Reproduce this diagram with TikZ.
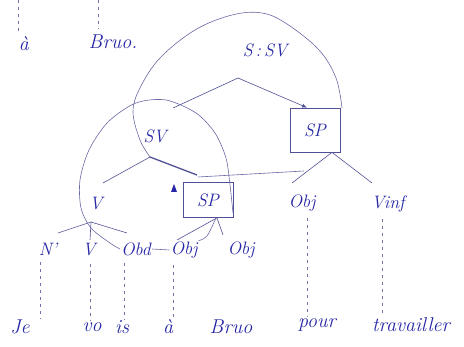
\documentclass[tikz,border=0pt]{standalone}
\usepackage{fontspec}
\usepackage{tikz}
\usetikzlibrary{arrows.meta, calc}
\definecolor{inkc}{RGB}{38,38,165}
\definecolor{penc}{RGB}{80,80,150}
\definecolor{loopc}{RGB}{105,105,165}

\begin{document}
\begin{tikzpicture}[x=1pt, y=-1pt,
    lab/.style={text=inkc, inner sep=1pt, font=\fontsize{18}{20}\selectfont\itshape},
    word/.style={text=inkc, inner sep=1pt,
      font=\fontsize{20}{22}\selectfont\itshape\addfontfeatures{LetterSpace=8}},
    spbox/.style={lab, draw=penc, line width=0.7pt, minimum width=50pt},
    edge/.style={penc, line width=0.6pt},
    leader/.style={penc!80, line width=0.5pt, dash pattern=on 3pt off 4pt},
    lasso/.style={loopc, line width=0.6pt}]
  \useasboundingbox (0,0) rectangle (464,347);
  % tree labels
  \node[lab] (root) at (265,50) {S\,:\,SV};
  \coordinate (sb) at (238,78);
  \node[lab] (sv) at (155,136) {SV};
  \node[spbox, minimum height=44pt] (spr) at (315,130) {SP};
  \node[lab] (v) at (96,204) {V};
  \node[spbox, minimum height=35pt] (spl) at (208,200) {SP};
  \node[lab] (obj) at (302,203) {Obj};
  \node[lab] (vinf) at (388,204) {Vinf};
  \node[lab] (np) at (48,249) {N'};
  \node[lab] (vc) at (89,250) {V};
  \node[lab] (obd) at (136,249) {Obd};
  \node[lab] (obja) at (184,250) {Obj};
  \node[lab] (objb) at (241,250) {Obj};
  % words
  \node[word] (je) at (20,327) {Je};
  \node[word] (vo) at (92,327) {vo};
  \node[word] (is) at (122,327) {is};
  \node[word] (a) at (168,327) {à};
  \node[word] (bruo) at (231,327) {Bruo};
  \node[word] (pour) at (317,325) {pour};
  \node[word] (trav) at (411,325) {travailler};
  \node[word] (topa) at (24,44) {à};
  \node[word] (topb) at (113,42) {Bruo.};
  % branches
  \draw[edge] (sb) -- ($(sv)+(18,-28)$);
  \draw[edge, -{Latex[length=5pt, width=4pt]}] (sb) -- ([xshift=-8pt]spr.north);
  \draw[edge] ($(sv)+(-5,21)$) -- ($(v)+(7,-21)$);
  \draw[edge, line width=1.3pt] ($(sv)+(-5,21)$) -- ($(spl)+(-11,-25)$);
  \foreach \b/\dx/\dy in {obj/-10/-20, vinf/-16/-21}
    \draw[edge] ($(spr.south)+(17,0)$) -- ($(\b)+(\dx,\dy)$);
  \foreach \b/\dx/\dy in {np/10/-16, vc/1/-10, obd/-9/-16}
    \draw[edge] ($(v)+(-5,18)$) -- ($(\b)+(\dx,\dy)$);
  \foreach \b/\dx/\dy in {obja/-7/-10, objb/-18/-15}
    \draw[edge] ($(spl.south)+(9,0)$) -- ($(\b)+(\dx,\dy)$);
  \fill[inkc] (171,192) -- (174,184) -- (177,192) -- cycle;
  % loops
  \draw[lasso] plot[smooth, tension=0.6] coordinates {(150,157) (140,140)
    (133,112) (140,88) (160,58) (195,30) (232,15) (262,13) (287,24) (319,50)
    (336,78) (342,108)};
  \draw[lasso] (198,177) -- (304,171);
  \draw[lasso] plot[smooth] coordinates {(233,213) (230,185) (226,158)
    (215,133) (196,113) (166,100) (136,103) (108,122) (89,150) (80,180)
    (81,208) (91,228) (110,243) (obd.west)};
  \draw[lasso] (obd.east) -- (obja.west);
  \draw[lasso] (obja.north east) .. controls (207,238) .. ($(spl.south)+(8,0)$);
  % leaders
  \coordinate (ta) at (18,0);
  \coordinate (tb) at (98,0);
  \draw[leader, shorten >=4pt] (ta) -- (ta |- topa.north);
  \draw[leader, shorten >=5pt] (tb) -- (tb |- topb.north);
  \foreach \a/\b/\dx in {np/je/-8, vc/vo/1, obd/is/-12, obja/a/-11,
      obj/pour/5, vinf/trav/-6} {
    \coordinate (t) at ($(\a.south)+(\dx,0)$);
    \draw[leader, shorten <=6pt] (t) -- (t |- \b.north);
  }
\end{tikzpicture}
\end{document}
